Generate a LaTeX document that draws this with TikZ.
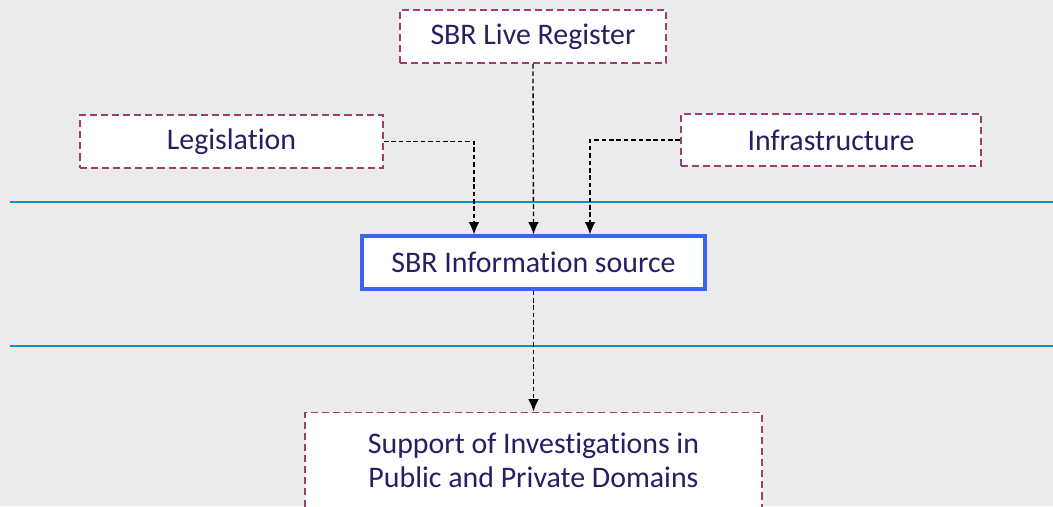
\documentclass[tikz,border=0pt]{standalone}
\usepackage{fontspec}
\setmainfont{Carlito}[Ligatures=NoCommon]
\usetikzlibrary{arrows.meta}

\definecolor{bgray}{RGB}{235,235,235}
\definecolor{boxline}{RGB}{160,60,110}
\definecolor{navy}{RGB}{40,30,100}
\definecolor{srcblue}{RGB}{60,100,240}
\definecolor{sepblue}{RGB}{0,150,200}

\tikzset{
  dbox/.style={draw=boxline, fill=white, line width=1.1pt, dash pattern=on 4pt off 2.3pt,
    text=navy, font=\fontsize{17}{19.5}\selectfont, inner sep=0pt, align=center},
  link/.style={-{Latex[length=7pt,width=6pt]}, black, line width=0.75pt, dash pattern=on 2.6pt off 1.6pt}
}

\begin{document}
\begin{tikzpicture}

  % Background
  \fill[bgray] (0,0) rectangle (21.06,10.12);
  \useasboundingbox (0,0) rectangle (21.06,10.12);

  % Separator lines
  \draw[sepblue, line width=1.2pt] (0.2,6.08) -- (21.06,6.08);
  \draw[sepblue, line width=1.2pt] (0.2,3.2) -- (21.06,3.2);

  % Inputs
  \node[dbox, minimum width=5.32cm, minimum height=1.06cm] (R) at (10.66,9.39) {SBR Live Register};
  \node[dbox, minimum width=6.06cm, minimum height=1.06cm] (L) at (4.63,7.29) {Legislation};
  \node[dbox, minimum width=6.0cm, minimum height=1.04cm] (I) at (16.62,7.32) {Infrastructure};

  % Information source
  \node[draw=srcblue, fill=white, line width=1.8pt, text=navy, font=\fontsize{17}{19.5}\selectfont,
    minimum width=6.86cm, minimum height=1.06cm] (S) at (10.67,4.87) {SBR Information source};

  % Output
  \node[dbox, minimum width=9.14cm, minimum height=1.9cm] (U) at (10.67,0.92)
    {Support of Investigations in\\Public and Private Domains};

  % Arrows
  \coordinate (a) at ([xshift=-1.19cm]S.north);
  \coordinate (b) at ([xshift=1.13cm]S.north);
  \draw[link] (L.east) -| (a);
  \draw[link] (R.south) -- (S.north);
  \draw[link] (I.west) -| (b);
  \draw[link] (S.south) -- (U.north);

\end{tikzpicture}
\end{document}
